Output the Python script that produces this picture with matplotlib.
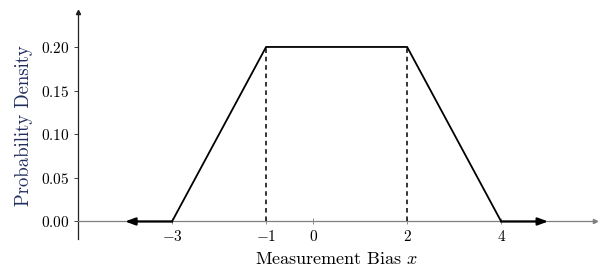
import matplotlib
matplotlib.use("Agg")
import matplotlib.pyplot as plt
from matplotlib.ticker import FormatStrFormatter

plt.rcParams['font.family'] = 'serif'
plt.rcParams['font.serif'] = ['cmr10', 'DejaVu Serif']
plt.rcParams['mathtext.fontset'] = 'cm'
plt.rcParams['axes.formatter.use_mathtext'] = True

# trapezoidal density
bias_x = [-3, -1, 2, 4]
density = [0, 0.2, 0.2, 0]
corner_x = [-1, 2]          # dashed drop lines
left_tail = [-3, -4]        # arrow tail to the left
right_tail = [4, 5]         # arrow tail to the right
xticks = [-3, -1, 0, 2, 4]
yticks = [0.00, 0.05, 0.10, 0.15, 0.20]

fig = plt.figure(figsize=(6, 2.74), dpi=100)
ax = fig.add_axes([0.13, 0.128, 0.862, 0.828])
ax.set_xlim(-5, 6)
ax.set_ylim(-0.02, 0.24)

# axes through origin-ish
for s in ['top', 'right']:
    ax.spines[s].set_visible(False)
ax.spines['bottom'].set_position(('data', 0))
ax.spines['bottom'].set_color('#808080')
ax.spines['left'].set_color('#202020')
ax.spines['bottom'].set_linewidth(0.9)
ax.spines['left'].set_linewidth(0.9)
ax.plot(1, 0, '>', color='#808080', ms=3, transform=ax.get_yaxis_transform(), clip_on=False)
ax.plot(0, 1, '^', color='#202020', ms=3, transform=ax.transAxes, clip_on=False)

ax.plot(bias_x, density, color='black', lw=1.3, zorder=3)
for cx in corner_x:
    ax.plot([cx, cx], [0, max(density)], color='black', lw=1.1, ls=(0, (3, 2.5)))

for tail in [left_tail, right_tail]:
    ax.annotate('', xy=(tail[1], 0), xytext=(tail[0], 0),
                arrowprops=dict(arrowstyle='-|>,head_length=0.6,head_width=0.22',
                                color='black', lw=1.6, shrinkA=0, shrinkB=0),
                zorder=4)

ax.set_xticks(xticks)
ax.set_yticks(yticks)
ax.yaxis.set_major_formatter(FormatStrFormatter('$%.2f$'))
ax.tick_params(axis='x', direction='inout', length=5, width=0.6, color='#808080',
               labelsize=11, pad=3)
ax.tick_params(axis='y', direction='out', length=3, width=0.6, color='#202020',
               labelsize=11, pad=3)

ax.set_xlabel('Measurement Bias $x$', fontsize=13, labelpad=5)
ax.set_ylabel('Probability Density', fontsize=13.5, color='#1f2d5c', labelpad=6)

fig.savefig('out.png', dpi=100)
